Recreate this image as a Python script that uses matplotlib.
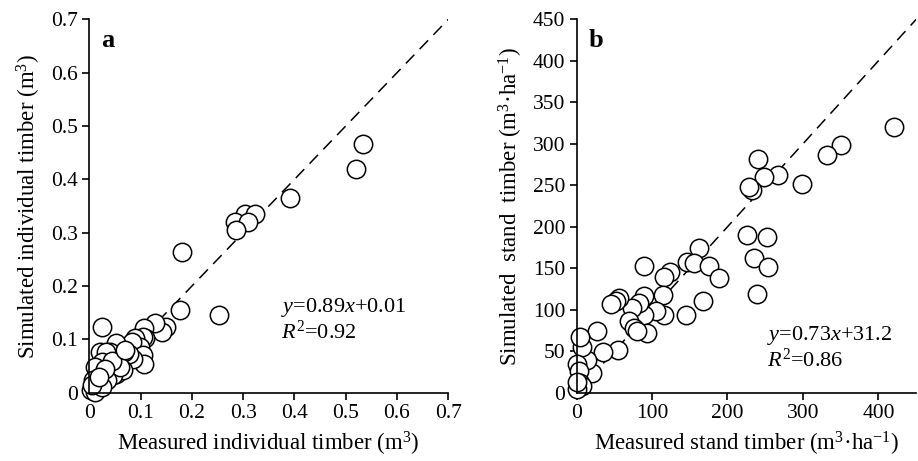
import matplotlib
matplotlib.use("Agg")
import matplotlib.pyplot as plt

plt.rcParams["font.family"] = ["Liberation Serif", "DejaVu Serif"]
plt.rcParams["mathtext.fontset"] = "custom"
plt.rcParams["mathtext.rm"] = "Liberation Serif"
plt.rcParams["mathtext.it"] = "Liberation Serif:italic"
plt.rcParams["mathtext.bf"] = "Liberation Serif:bold"

# Panel a: individual tree timber volume (m3)
ind_measured = [0.534, 0.520, 0.391, 0.303, 0.323, 0.284, 0.310, 0.287, 0.180,
                0.177, 0.252, 0.150, 0.141, 0.128, 0.107, 0.024, 0.109, 0.105,
                0.089, 0.099, 0.083, 0.053, 0.105, 0.107, 0.085, 0.078, 0.068,
                0.040, 0.021, 0.033, 0.024, 0.011, 0.035, 0.053, 0.066, 0.047,
                0.060, 0.020, 0.008, 0.034, 0.014, 0.004, 0.011, 0.025, 0.045,
                0.070, 0.030, 0.005, 0.018]
ind_simulated = [0.466, 0.419, 0.366, 0.336, 0.335, 0.321, 0.321, 0.305, 0.263,
                 0.155, 0.146, 0.124, 0.114, 0.130, 0.121, 0.124, 0.103, 0.105,
                 0.102, 0.086, 0.096, 0.094, 0.071, 0.053, 0.064, 0.072, 0.077,
                 0.077, 0.077, 0.077, 0.058, 0.049, 0.038, 0.036, 0.043, 0.033,
                 0.049, 0.021, 0.024, 0.024, 0.011, 0.005, 0.002, 0.010, 0.060,
                 0.080, 0.045, 0.015, 0.030]

# Panel b: stand timber volume (m3/ha)
stand_measured = [421, 350, 332, 299, 267, 248, 241, 232, 228, 226, 253, 235,
                  254, 239, 162, 147, 156, 176, 189, 168, 145, 124, 116, 114,
                  116, 105, 90, 90, 89, 93, 83, 74, 69, 76, 80, 56, 52, 46,
                  55, 35, 27, 21, 14, 7.5, 5, 1, 3, 4, 7.5, 0, 0]
stand_simulated = [320, 298, 286, 252, 262, 260, 282, 244, 248, 190, 188, 163,
                   152, 119, 175, 157, 156, 153, 138, 110, 94, 145, 139, 118,
                   94, 98, 153, 117, 94, 72, 108, 102, 86, 78, 74, 114, 110,
                   107, 52, 49, 75, 24, 40, 55, 67, 35, 26, 12, 8, 4, 13]

fig = plt.figure(figsize=(9.18, 4.61), dpi=100)
ax_a = fig.add_axes([0.0973, 0.148, 0.391, 0.810])
ax_b = fig.add_axes([0.628, 0.148, 0.370, 0.810])

tick_fs = 15.5
label_fs = 16.5
note_fs = 16


def style_axes(ax):
    for side in ("top", "right"):
        ax.spines[side].set_visible(False)
    for side in ("left", "bottom"):
        ax.spines[side].set_linewidth(1.2)
    ax.tick_params(direction="out", length=5, width=1.2,
                   labelsize=tick_fs, pad=3)


def scatter_panel(ax, xs, ys, lim):
    ax.plot([0, lim], [0, lim], color="black", lw=1.1,
            linestyle=(0, (8, 5)), zorder=1)
    ax.scatter(xs, ys, s=175, facecolor="white", edgecolor="black",
               linewidth=1.1, zorder=2, clip_on=False)
    ax.set_xlim(0, lim)
    ax.set_ylim(0, lim)


scatter_panel(ax_a, ind_measured, ind_simulated, 0.7)
style_axes(ax_a)
ax_a.set_xticks([0, 0.1, 0.2, 0.3, 0.4, 0.5, 0.6, 0.7])
ax_a.set_xticklabels(["0", "0.1", "0.2", "0.3", "0.4", "0.5", "0.6", "0.7"])
ax_a.set_yticks([0, 0.1, 0.2, 0.3, 0.4, 0.5, 0.6, 0.7])
ax_a.set_yticklabels(["0", "0.1", "0.2", "0.3", "0.4", "0.5", "0.6", "0.7"])
ax_a.set_xlabel("Measured individual timber (m$^{3}$)", fontsize=label_fs, labelpad=5)
ax_a.set_ylabel("Simulated individual timber (m$^{3}$)", fontsize=label_fs, labelpad=6)
ax_a.text(0.033, 0.975, "a", transform=ax_a.transAxes, fontsize=19,
          fontweight="bold", va="top", ha="left")
ax_a.text(0.535, 0.131, "$y$=0.89$x$+0.01\n$R^{2}$=0.92", transform=ax_a.transAxes,
          fontsize=note_fs, ha="left", va="bottom", linespacing=1.1)

scatter_panel(ax_b, stand_measured, stand_simulated, 450)
style_axes(ax_b)
ax_b.set_xticks([0, 100, 200, 300, 400])
ax_b.set_yticks([0, 50, 100, 150, 200, 250, 300, 350, 400, 450])
ax_b.set_xlabel("Measured stand timber (m$^{3}$·ha$^{\u22121}$)", fontsize=label_fs, labelpad=5)
ax_b.set_ylabel("Simulated  stand  timber (m$^{3}$·ha$^{\u22121}$)", fontsize=label_fs, labelpad=6)
ax_b.text(0.035, 0.975, "b", transform=ax_b.transAxes, fontsize=19,
          fontweight="bold", va="top", ha="left")
ax_b.text(0.56, 0.056, "$y$=0.73$x$+31.2\n$R^{2}$=0.86", transform=ax_b.transAxes,
          fontsize=note_fs, ha="left", va="bottom", linespacing=1.1)

fig.savefig("out.png", dpi=100)
